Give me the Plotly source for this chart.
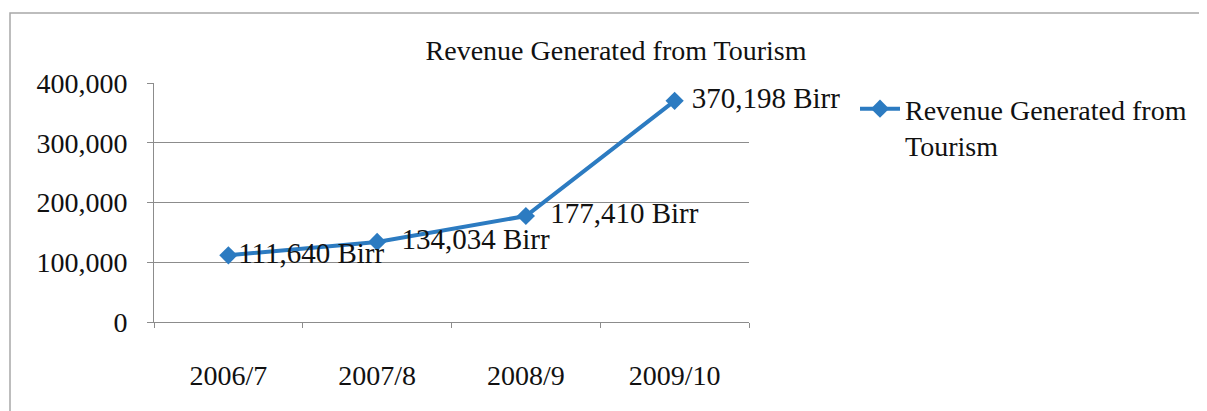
import plotly.graph_objects as go

categories = ["2006/7", "2007/8", "2008/9", "2009/10"]
revenue = [111640, 134034, 177410, 370198]
y_ticks = [0, 100000, 200000, 300000, 400000]
series_name = "Revenue Generated from<br>Tourism"
title_text = "Revenue Generated from Tourism"
label_templates = ["%{y:,} Birr", "\u00a0\u00a0%{y:,} Birr", "\u00a0\u00a0%{y:,} Birr", "\u00a0%{y:,} Birr"]

# page body has an 8px margin; work in reference pixel coordinates minus that offset
OFF = 8
W, H = 1207 - OFF, 411 - OFF
PL, PR, PT, PB = 154, 749, 83, 322  # plot area in reference pixels
L, R, T, B = PL - OFF, W - (PR - OFF), PT - OFF, H - (PB - OFF)
pw, ph = W - L - R, H - T - B

FONT = "Liberation Serif, Times New Roman, serif"
BLUE = "#2C7BC1"
GRID = "#8c8c8c"
TXT = "#111111"


def px_x(x):
    return (x - OFF - L) / pw


def px_y(y):
    return (H - B - (y - OFF)) / ph


fig = go.Figure()
fig.add_trace(go.Scatter(
    x=categories, y=revenue, name=series_name,
    mode="lines+markers+text",
    line=dict(color=BLUE, width=4),
    marker=dict(symbol="diamond", size=14, color=BLUE),
    texttemplate=label_templates,
    textposition="middle right",
    textfont=dict(family=FONT, size=29, color=TXT),
    cliponaxis=False,
))

fig.update_layout(
    width=W, height=H,
    margin=dict(l=L, r=R, t=T, b=B),
    paper_bgcolor="white", plot_bgcolor="white",
    font=dict(family=FONT, size=28, color=TXT),
    title=dict(text=title_text, x=(616 - OFF) / W, xref="container", xanchor="center",
               y=1 - (50 - OFF) / H, yref="container", yanchor="middle",
               font=dict(family=FONT, size=28, color=TXT)),
    showlegend=True,
    legend=dict(x=px_x(855), y=px_y(84), xanchor="left", yanchor="top", valign="top",
                font=dict(family=FONT, size=28, color=TXT),
                bgcolor="rgba(0,0,0,0)", itemwidth=40, tracegroupgap=0),
    xaxis=dict(type="category", range=[-0.5, len(categories) - 0.5],
               showgrid=False, showline=True, linecolor=GRID, linewidth=1,
               ticks="outside", tickson="boundaries", ticklen=5, tickcolor=GRID,
               ticklabelstandoff=28, tickfont=dict(family=FONT, size=28, color=TXT),
               zeroline=False),
    yaxis=dict(range=[0, 400000], tickvals=y_ticks, tickformat=",",
               showgrid=True, gridcolor=GRID, gridwidth=1,
               showline=True, linecolor=GRID, linewidth=1,
               ticks="outside", ticklen=6, tickcolor=GRID, ticklabelstandoff=14,
               tickfont=dict(family=FONT, size=28, color=TXT),
               zeroline=False),
    shapes=[dict(type="rect", xref="paper", yref="paper",
                 x0=px_x(10), x1=px_x(1203), y0=px_y(420), y1=px_y(13),
                 line=dict(color="#a8a8a8", width=1.5), layer="below")],
)

fig.write_html("out.html")
